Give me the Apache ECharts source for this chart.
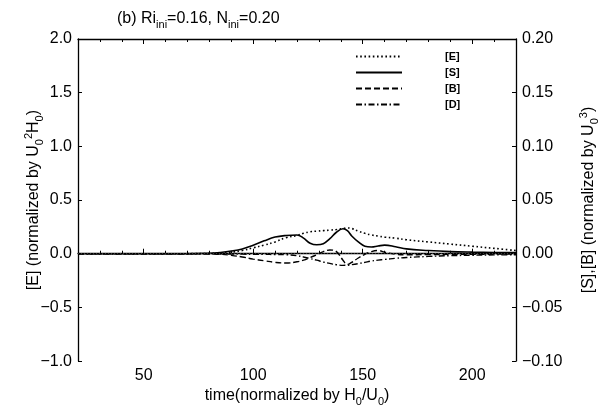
<!DOCTYPE html>
<html>
<head>
<meta charset="utf-8">
<script src="https://cdn.jsdelivr.net/npm/echarts@6/dist/echarts.min.js"></script>
<style>html,body{margin:0;padding:0;background:#fff}#c{width:608px;height:412px}</style>
</head>
<body>
<div id="c"></div>
<script>
// time axis (normalized by H0/U0)
var time = [20, 40, 60, 80, 85, 90, 95, 100, 105, 110, 115, 120, 123, 126, 129, 132, 135, 138, 141, 143, 145, 148, 151, 154, 157, 160, 165, 170, 180, 190, 200, 210, 220];
// [E] left axis
var seriesE = [0, 0, 0, 0.003, 0.007, 0.015, 0.03, 0.055, 0.08, 0.11, 0.15, 0.17, 0.19, 0.205, 0.21, 0.215, 0.22, 0.225, 0.235, 0.24, 0.235, 0.21, 0.19, 0.175, 0.165, 0.155, 0.145, 0.13, 0.11, 0.09, 0.07, 0.05, 0.03];
// [S], [B], [D] right axis
var seriesS = [0, 0, 0, 0.0005, 0.0012, 0.0025, 0.0045, 0.008, 0.012, 0.0155, 0.017, 0.0175, 0.0145, 0.0098, 0.0083, 0.0093, 0.014, 0.02, 0.0232, 0.0215, 0.0165, 0.011, 0.007, 0.0063, 0.0072, 0.008, 0.0065, 0.0045, 0.003, 0.002, 0.0015, 0.0012, 0.001];
var seriesB = [0, 0, 0, -0.0002, -0.0005, -0.0015, -0.003, -0.005, -0.0065, -0.008, -0.0087, -0.0075, -0.006, -0.0035, -0.001, 0.002, 0.0035, 0.002, -0.006, -0.01, -0.008, -0.004, -0.0005, 0.002, 0.003, 0.0015, -0.0005, -0.001, -0.0008, -0.0006, -0.0005, -0.0004, -0.0003];
var seriesD = [0, 0, 0, -0.0001, -0.0002, -0.0003, -0.0004, -0.0005, -0.0006, -0.0007, -0.0009, -0.0018, -0.003, -0.0045, -0.006, -0.0077, -0.009, -0.0102, -0.0108, -0.0107, -0.0102, -0.0092, -0.008, -0.0068, -0.006, -0.0053, -0.0043, -0.0035, -0.0025, -0.0018, -0.0014, -0.0011, -0.0009];
var legendNames = ['[E]', '[S]', '[B]', '[D]'];
var xMajor = [50, 100, 150, 200];

function pairs(v) { return time.map(function (t, i) { return [t, v[i]]; }); }
function minus(s) { return s.replace('-', '\u2212'); }

var FONT = 'Liberation Sans';
var chart = echarts.init(document.getElementById('c'), null, { renderer: 'canvas' });
var axisLine = { show: true, lineStyle: { color: '#000', width: 1.3 } };
var subRich = {
  n: { fontSize: 16, fontFamily: FONT, fontWeight: 'normal', color: '#000', lineHeight: 22 },
  sub: { fontSize: 11, fontFamily: FONT, fontWeight: 'normal', color: '#000', verticalAlign: 'bottom', lineHeight: 12 },
  sup: { fontSize: 11, fontFamily: FONT, fontWeight: 'normal', color: '#000', verticalAlign: 'top', lineHeight: 12 }
};

chart.setOption({
  animation: false,
  backgroundColor: '#fff',
  title: {
    text: '{n|(b) Ri}{sub|ini}{n|=0.16, N}{sub|ini}{n|=0.20}',
    left: 112, top: 3,
    textStyle: { fontWeight: 'normal', rich: subRich }
  },
  grid: { left: 78, right: 90, top: 39, bottom: 45 },
  legend: {
    orient: 'vertical', left: 350, top: 46,
    itemWidth: 46, itemHeight: 12, itemGap: 5,
    data: legendNames,
    itemStyle: { opacity: 0 },
    textStyle: { fontFamily: FONT, fontSize: 11, fontWeight: 'bold', color: '#000', padding: [0, 0, 0, 38] }
  },
  xAxis: [
    {
      type: 'value', min: 20, max: 220, interval: 10, position: 'bottom',
      axisLine: axisLine,
      axisTick: { show: true, inside: true, length: 3, lineStyle: { color: '#000' } },
      axisLabel: { show: true, fontFamily: FONT, fontSize: 16, color: '#000', margin: 6,
        formatter: function (v) { return v % 50 === 0 ? String(v) : ''; } },
      splitLine: { show: false },
      name: '{n|time(normalized by H}{sub|0}{n|/U}{sub|0}{n|)}',
      nameLocation: 'middle', nameGap: 23,
      nameTextStyle: { rich: subRich }
    },
    {
      type: 'value', min: 20, max: 220, position: 'bottom', gridIndex: 0,
      axisLine: { show: false },
      axisTick: { show: true, inside: true, length: 5, customValues: xMajor, lineStyle: { color: '#000' } },
      axisLabel: { show: false }, splitLine: { show: false }
    },
    {
      type: 'value', min: 20, max: 220, interval: 10, position: 'top', gridIndex: 0,
      axisLine: axisLine,
      axisTick: { show: true, inside: true, length: 3, lineStyle: { color: '#000' } },
      axisLabel: { show: false }, splitLine: { show: false }
    },
    {
      type: 'value', min: 20, max: 220, position: 'top', gridIndex: 0,
      axisLine: { show: false },
      axisTick: { show: true, inside: true, length: 5, customValues: xMajor, lineStyle: { color: '#000' } },
      axisLabel: { show: false }, splitLine: { show: false }
    }
  ],
  yAxis: [
    {
      type: 'value', min: -1, max: 2, interval: 0.5, position: 'left',
      axisLine: axisLine,
      axisTick: { show: true, inside: true, length: 4, lineStyle: { color: '#000' } },
      axisLabel: { fontFamily: FONT, fontSize: 16, color: '#000', margin: 6,
        formatter: function (v) { return minus(v.toFixed(1)); } },
      splitLine: { show: false },
      name: '{n|[E] (normalized by U}{sub|0}{sup|2}{n|H}{sub|0}{n|)}',
      nameLocation: 'middle', nameGap: 33, nameRotate: 90, nameMoveOverlap: false,
      nameTextStyle: { rich: subRich }
    },
    {
      type: 'value', min: -0.1, max: 0.2, interval: 0.05, position: 'right',
      axisLine: axisLine,
      axisTick: { show: true, inside: true, length: 4, lineStyle: { color: '#000' } },
      axisLabel: { fontFamily: FONT, fontSize: 16, color: '#000', margin: 6,
        formatter: function (v) { return minus(v.toFixed(2)); } },
      splitLine: { show: false },
      name: '{n|[S],[B] (normalized by U}{sub|0}{sup|3}{n|)}',
      nameLocation: 'middle', nameGap: 62, nameRotate: 90, nameMoveOverlap: false,
      nameTextStyle: { rich: subRich }
    }
  ],
  series: [
    {
      name: '[E]', type: 'line', xAxisIndex: 0, yAxisIndex: 0, data: pairs(seriesE),
      smooth: 0.4, symbol: 'none', lineStyle: { color: '#000', width: 1.6, type: [1.6, 2.6] },
      itemStyle: { color: '#000' },
      markLine: { silent: true, symbol: 'none', label: { show: false },
        lineStyle: { color: '#555', width: 0.7, type: [1, 2] }, data: [{ yAxis: 0 }] }
    },
    {
      name: '[S]', type: 'line', xAxisIndex: 0, yAxisIndex: 1, data: pairs(seriesS),
      smooth: 0.4, symbol: 'none', lineStyle: { color: '#000', width: 1.6, type: 'solid' },
      itemStyle: { color: '#000' }
    },
    {
      name: '[B]', type: 'line', xAxisIndex: 0, yAxisIndex: 1, data: pairs(seriesB),
      smooth: 0.4, symbol: 'none', lineStyle: { color: '#000', width: 1.4, type: [6, 3] },
      itemStyle: { color: '#000' }
    },
    {
      name: '[D]', type: 'line', xAxisIndex: 0, yAxisIndex: 1, data: pairs(seriesD),
      smooth: 0.4, symbol: 'none', lineStyle: { color: '#000', width: 1.4, type: [6, 2.5, 1.5, 2.5] },
      itemStyle: { color: '#000' }
    }
  ]
});
</script>
</body>
</html>
